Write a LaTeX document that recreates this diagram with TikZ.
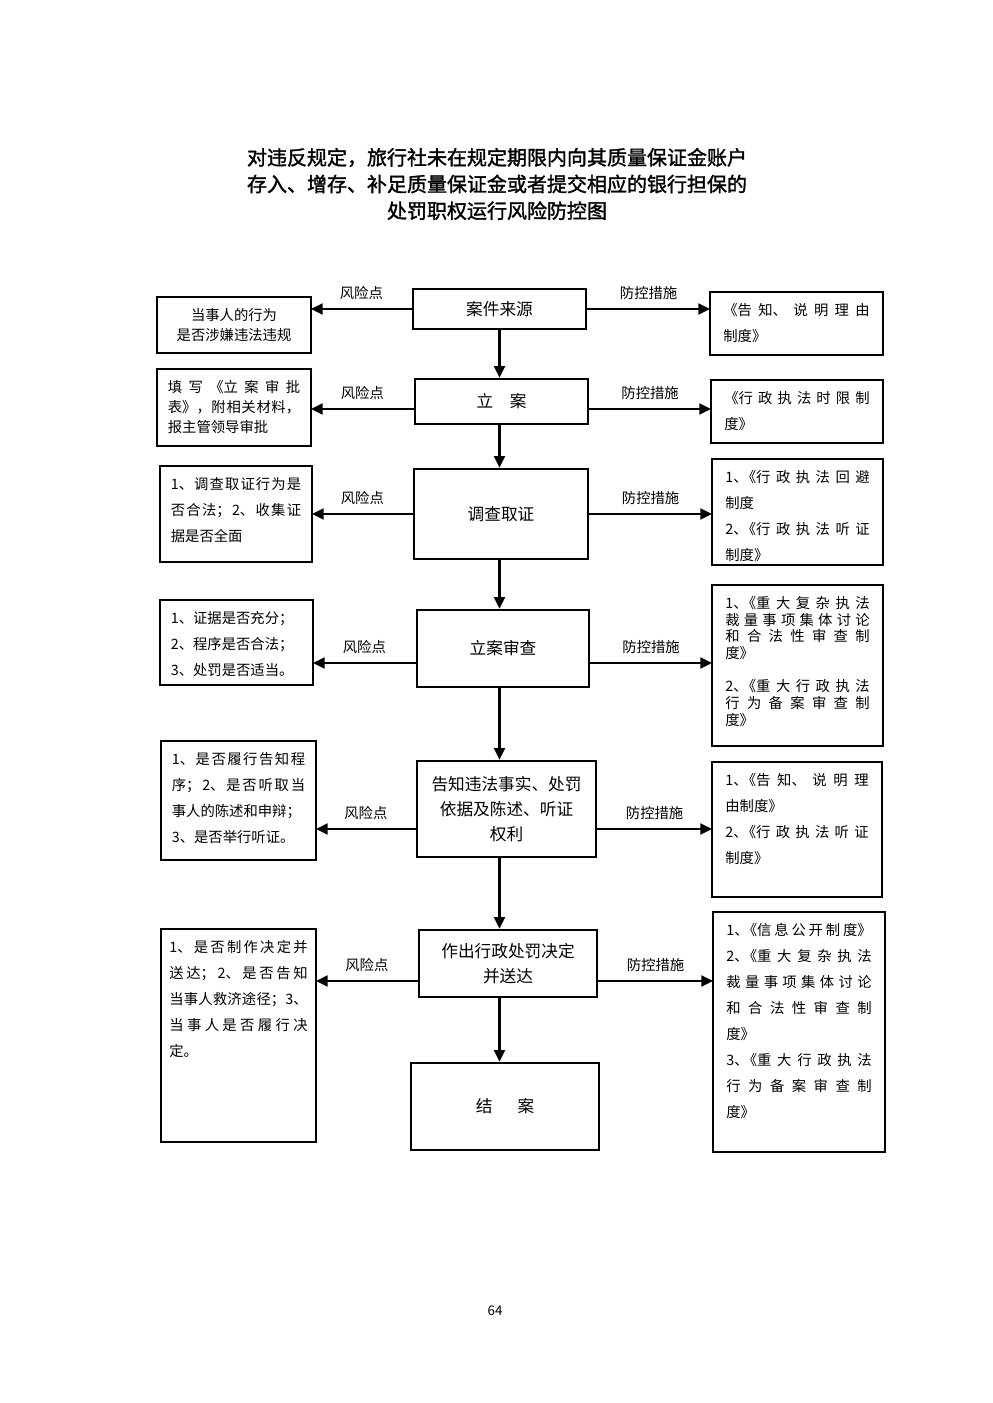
\documentclass[tikz,border=0pt]{standalone}
\usepackage{fontspec}
\setmainfont{Noto Sans CJK SC}
\newfontfamily\titlefont[FakeBold=1.6]{Noto Sans CJK SC}
\usetikzlibrary{positioning, arrows.meta}
\XeTeXlinebreaklocale "zh"
\XeTeXlinebreakskip = 0pt plus 5pt minus 0.3pt
\newcommand{\numopen}[1]{\mbox{#1、\kern-0.4em《}}

\begin{document}
\begin{tikzpicture}[x=0.6pt, y=-0.6pt, line width=1.5pt]
    \tikzstyle{stage}=[
        draw = black,
        align = center,
        font = \fontsize{10}{15}\selectfont
    ]
    \tikzstyle{note}=[
        draw = black,
        anchor = north west,
        outer sep = 0pt,
        inner xsep = 6.5pt,
        inner ysep = 4pt,
        text height = 10pt,
        align = justify,
        font = \fontsize{8.6}{15.6}\selectfont
    ]
    \tikzstyle{rnote}=[note, inner xsep=8pt]
    \tikzstyle{flow}=[-{Triangle[length=7pt, width=6.5pt]}]
    \tikzstyle{tag}=[font=\fontsize{8.6}{10}\selectfont, above=1.5pt]

    \useasboundingbox (0,0) rectangle (992,1403);

    \node (title) at (497,184) [align=center, font=\fontsize{12}{16}\selectfont\titlefont]
        {对违反规定，旅行社未在规定期限内向其质量保证金账户\\存入、增存、补足质量保证金或者提交相应的银行担保的\\处罚职权运行风险防控图};

    % main column
    \node (c1) at (499.5,309) [stage, minimum width=103.8pt, minimum height=24pt] {案件来源};
    \node (c2) at (501.5,401.5) [stage, minimum width=103.8pt, minimum height=27pt] {立　案};
    \node (c3) at (501,514) [stage, minimum width=104.4pt, minimum height=54pt] {调查取证};
    \node (c4) at (503,648.5) [stage, minimum width=103.2pt, minimum height=46.2pt] {立案审查};
    \node (c5) at (506.5,809) [stage, minimum width=107.4pt, minimum height=57.6pt] {告知违法事实、处罚\\依据及陈述、听证\\权利};
    \node (c6) at (508,963.5) [stage, minimum width=106.8pt, minimum height=40.2pt] {作出行政处罚决定\\并送达};
    \node (c7) at (505,1106.5) [stage, minimum width=112.8pt, minimum height=52.2pt] {结\hspace{1.5em}案};

    % risk points
    \node (l1) at (157,297) [note, minimum width=92.4pt, text height=22pt, text depth=3.6pt,
        align=center, font=\fontsize{8.6}{12}\selectfont] {当事人的行为\\是否涉嫌违法违规};
    \node (l2) at (157,369) [note, text width=79.4pt, text depth=28.2pt,
        font=\fontsize{8.6}{12}\selectfont] {填写《立案审批\linebreak 表》，附相关材料，\linebreak 报主管领导审批};
    \node (l3) at (160,466) [note, text width=78.2pt, text depth=39.6pt]
        {1、调查取证行为是\linebreak 否合法；2、收集证\linebreak 据是否全面};
    \node (l4) at (160,600) [note, text width=78.8pt, text depth=33pt]
        {1、证据是否充分；\\2、程序是否合法；\\3、处罚是否适当。};
    \node (l5) at (161,741) [note, text width=80pt, text depth=53.4pt]
        {1、是否履行告知程\linebreak 序；2、是否听取当\linebreak 事人的陈述和申辩；\\3、是否举行听证。};
    \node (l6) at (161,929) [note, inner xsep=5pt, text width=83pt, text depth=109.8pt]
        {1、是否制作决定并\linebreak 送达；2、是否告知\linebreak 当事人救济途径；3、\linebreak 当事人是否履行决\linebreak 定。};

    % control measures
    \node (r1) at (710,292) [rnote, text width=87.8pt, text depth=19.8pt]
        {《告知、说明理由\linebreak 制度》};
    \node (r2) at (711,380) [rnote, text width=87.2pt, text depth=19.8pt]
        {《行政执法时限制\linebreak 度》};
    \node (r3) at (712,459) [rnote, text width=86.6pt, text depth=45.6pt]
        {\numopen{1}行政执法回避\linebreak 制度\\\numopen{2}行政执法听证\linebreak 制度》};
    \node (r4) at (712,585) [rnote, text width=86.6pt, text depth=78.6pt,
        font=\fontsize{8.6}{10}\selectfont]
        {\numopen{1}重大复杂执法\linebreak 裁量事项集体讨论\linebreak 和合法性审查制\linebreak 度》\\[10pt]\numopen{2}重大行政执法\linebreak 行为备案审查制\linebreak 度》};
    \node (r5) at (712,762) [rnote, text width=86pt, text depth=63pt]
        {\numopen{1}告知、说明理\linebreak 由制度》\\\numopen{2}行政执法听证\linebreak 制度》};
    \node (r6) at (713,912) [rnote, text width=87.2pt, text depth=126pt]
        {\numopen{1}信息公开制度》\linebreak \numopen{2}重大复杂执法\linebreak 裁量事项集体讨论\linebreak 和合法性审查制\linebreak 度》\\\numopen{3}重大行政执法\linebreak 行为备案审查制\linebreak 度》};

    \node (page) at (495,1311) [font=\fontsize{8}{10}\selectfont] {64};

    \path[flow] (c1.south) edge (c2.north -| c1)
                (c2.south -| c1) edge (c3.north -| c1)
                (c3.south -| c1) edge (c4.north -| c1)
                (c4.south -| c1) edge (c5.north -| c1)
                (c5.south -| c1) edge (c6.north -| c1)
                (c6.south -| c1) edge (c7.north -| c1);

    \path[flow] (c1.west) edge node[tag] {风险点} (c1.west -| l1.east)
                (c1.east) edge node[tag] {防控措施} (c1.east -| r1.west)
                ([yshift=-4.5pt]c2.west) edge node[tag] {风险点} ([yshift=-4.5pt]c2.west -| l2.east)
                ([yshift=-4.5pt]c2.east) edge node[tag] {防控措施} ([yshift=-4.5pt]c2.east -| r2.west)
                (c3.west) edge node[tag] {风险点} (c3.west -| l3.east)
                (c3.east) edge node[tag] {防控措施} (c3.east -| r3.west)
                ([yshift=-8.7pt]c4.west) edge node[tag] {风险点} ([yshift=-8.7pt]c4.west -| l4.east)
                ([yshift=-8.7pt]c4.east) edge node[tag] {防控措施} ([yshift=-8.7pt]c4.east -| r4.west)
                ([yshift=-12pt]c5.west) edge node[tag] {风险点} ([yshift=-12pt]c5.west -| l5.east)
                ([yshift=-12pt]c5.east) edge node[tag] {防控措施} ([yshift=-12pt]c5.east -| r5.west)
                ([yshift=-10.5pt]c6.west) edge node[tag] {风险点} ([yshift=-10.5pt]c6.west -| l6.east)
                ([yshift=-10.5pt]c6.east) edge node[tag] {防控措施} ([yshift=-10.5pt]c6.east -| r6.west);
\end{tikzpicture}
\end{document}
